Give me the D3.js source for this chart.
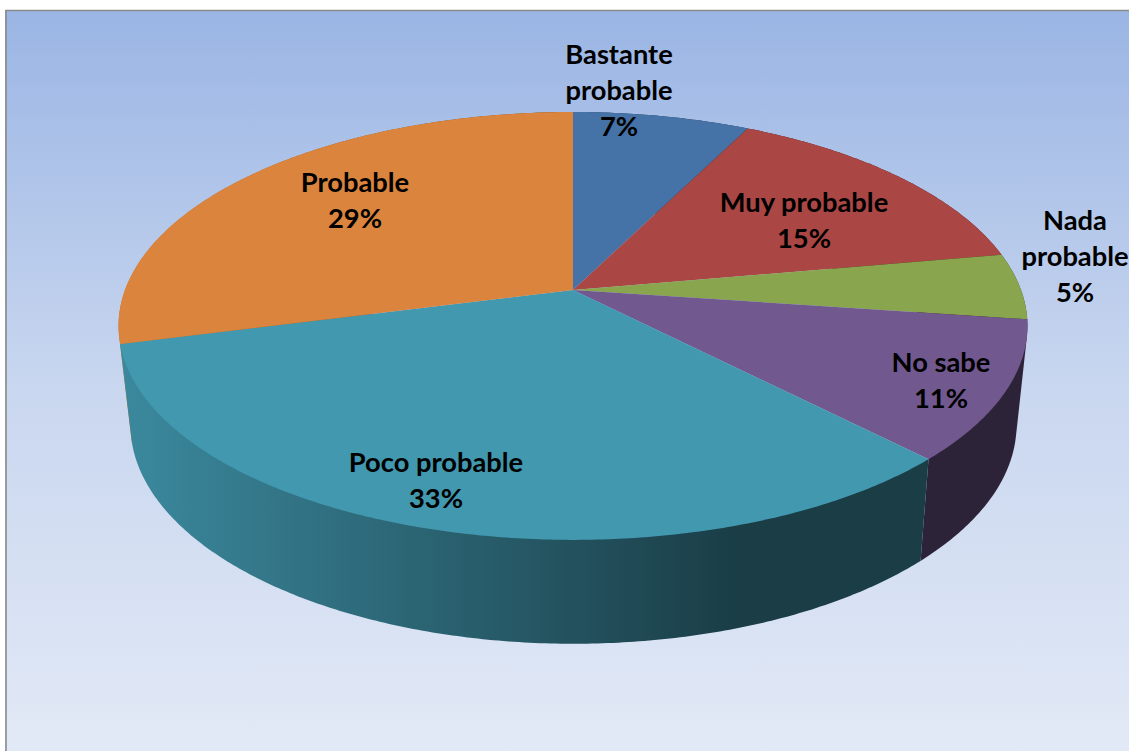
<!DOCTYPE html>
<html>
<head>
<meta charset="utf-8">
<script src="https://cdn.jsdelivr.net/npm/d3@7"></script>
<style>
  html, body { margin: 0; padding: 0; background: #fff; overflow: hidden; }
  svg { display: block; }
</style>
</head>
<body>
<svg id="chart" width="1129" height="751"></svg>
<script>
const categories = ["Bastante probable", "Muy probable", "Nada probable", "No sabe", "Poco probable", "Probable"];
// slice sizes, the labels show them rounded
const shares = [7.4, 14.8, 5.0, 10.5, 33.3, 29];
const colors = ["#4572A7", "#AA4643", "#89A54E", "#71588F", "#4198AF", "#DB843D"];

const width = 1129;
const height = 751;
const svg = d3.select("#chart");
const defs = svg.append("defs");

// top and bottom planes of the tilted disc, in perspective
const topPlane = { cx: 573, cy: 290, rx: 448, ry: 207.9, k: 0.168 };
const basePlane = { cx: 573.5, cy: 387.5, rx: 436.6, ry: 212.7, k: 0.17 };

function project(plane, angle) {
    const X = Math.sin(angle);
    const Y = Math.cos(angle);
    const den = 1 + plane.k * Y;
    return [plane.cx + plane.rx * X / den, plane.cy - plane.ry * Y / den];
}

function arcPoints(plane, a0, a1) {
    const n = Math.max(2, Math.ceil((a1 - a0) / 0.01));
    return d3.range(n + 1).map(i => project(plane, a0 + (a1 - a0) * i / n));
}

const line = d3.line();
const pie = d3.pie().sort(null)(shares);

// background
const bg = defs.append("linearGradient")
    .attr("id", "bg").attr("x1", 0).attr("y1", 0).attr("x2", 0).attr("y2", 1);
bg.append("stop").attr("offset", 0).attr("stop-color", "#9ab5e4");
bg.append("stop").attr("offset", 0.5).attr("stop-color", "#c8d6ef");
bg.append("stop").attr("offset", 1).attr("stop-color", "#e2e9f6");

svg.append("rect")
    .attr("x", 5).attr("y", 10)
    .attr("width", width - 5).attr("height", height - 10)
    .attr("fill", "url(#bg)");
svg.append("path")
    .attr("d", `M6,${height}V10.5H${width}`)
    .attr("fill", "none")
    .attr("stroke", "#8a8a8a")
    .attr("stroke-width", 1.6);

// side walls, back slices first
pie.forEach((d, i) => {
    const c = d3.rgb(colors[i]);
    const g = defs.append("linearGradient")
        .attr("id", "wall" + i)
        .attr("gradientUnits", "userSpaceOnUse")
        .attr("x1", 120).attr("y1", 0).attr("x2", 740).attr("y2", 0);
    g.append("stop").attr("offset", 0)
        .attr("stop-color", d3.rgb(c.r * 0.9, c.g * 0.9, c.b * 0.9));
    g.append("stop").attr("offset", 1)
        .attr("stop-color", d3.rgb(c.r * 0.4, c.g * 0.4, c.b * 0.4));
});

const midDepth = d => Math.cos((d.startAngle + d.endAngle) / 2);
const wallOrder = d3.range(pie.length)
    .sort((a, b) => midDepth(pie[b]) - midDepth(pie[a]));

svg.append("g").selectAll("path")
    .data(wallOrder)
    .enter()
    .append("path")
    .attr("d", i => {
        const d = pie[i];
        // hull gives the straight tangent between the two rims
        const hull = d3.polygonHull(arcPoints(topPlane, d.startAngle, d.endAngle)
            .concat(arcPoints(basePlane, d.startAngle, d.endAngle)));
        return line(hull) + "Z";
    })
    .attr("fill", i => `url(#wall${i})`);

// top face
svg.append("g").selectAll("path")
    .data(pie)
    .enter()
    .append("path")
    .attr("d", d => line([[topPlane.cx, topPlane.cy]]
        .concat(arcPoints(topPlane, d.startAngle, d.endAngle))) + "Z")
    .attr("fill", (d, i) => colors[i]);

// labels
const labelLines = categories.map((c, i) => {
    const name = (c === "Bastante probable" || c === "Nada probable") ? c.split(" ") : [c];
    return name.concat(Math.round(shares[i]) + "%");
});
const labelPos = [[619, 64], [804, 212], [1075, 230], [941, 372], [436, 472], [355, 192]];

svg.append("g")
    .attr("font-family", "Lato, 'Open Sans', sans-serif")
    .attr("font-weight", 700)
    .attr("font-size", 27.3)
    .attr("fill", "#000")
    .attr("text-anchor", "middle")
    .selectAll("text")
    .data(labelLines)
    .enter()
    .append("text")
    .each(function(lines, i) {
        d3.select(this).selectAll("tspan")
            .data(lines)
            .enter()
            .append("tspan")
            .attr("x", labelPos[i][0])
            .attr("y", (l, j) => labelPos[i][1] + j * 36)
            .text(l => l);
    });
</script>
</body>
</html>
